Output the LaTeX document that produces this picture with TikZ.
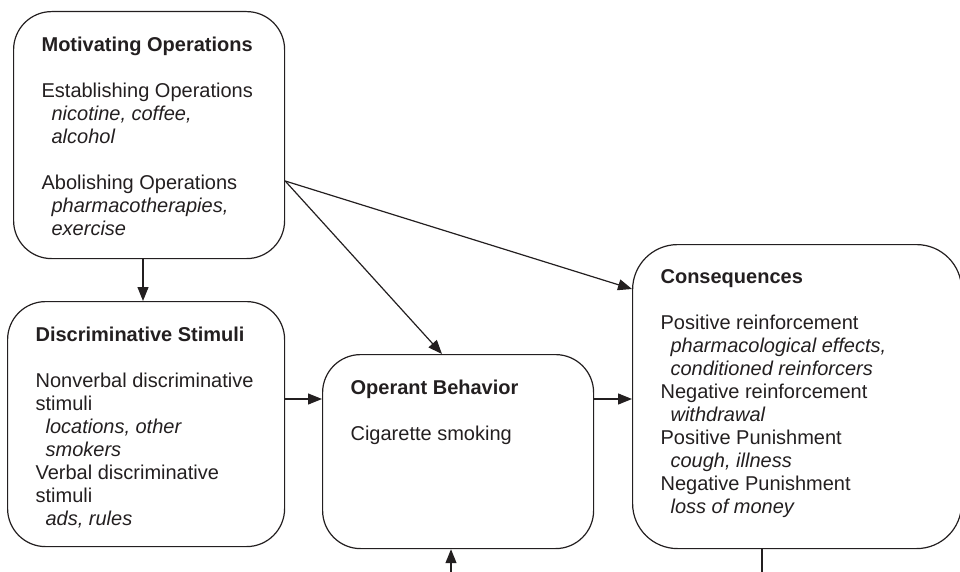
\documentclass[tikz,border=0pt]{standalone}
\usepackage{fontspec}
\setmainfont{Liberation Sans}
\usepackage{xcolor}
\usepackage{tikz}
\usetikzlibrary{arrows.meta, positioning}
\definecolor{ink}{RGB}{35,31,32}
\newcommand{\boxtext}[3]{\begin{minipage}[t][#2][t]{#1}\raggedright\vspace*{25pt}#3\end{minipage}}
\newcommand{\eg}[1]{\hspace*{10pt}\textit{#1}}

\begin{document}
\begin{tikzpicture}[
    x=1pt, y=-1pt,
    box/.style={rectangle, rounded corners=38pt, draw=ink, line width=1.2pt,
                inner xsep=28pt, inner ysep=0pt, anchor=north west,
                text=ink, font=\fontsize{20}{23}\selectfont},
    arr/.style={-{Triangle[length=14pt, width=11pt]}, line width=1.2pt, draw=ink}
]
  \useasboundingbox (0,0) rectangle (960,572);

  \node[box] (motiv) at (13,11) {\boxtext{215pt}{247pt}{\textbf{Motivating Operations}\\[23pt]
      Establishing Operations\\ \eg{nicotine, coffee,}\\ \eg{alcohol}\\[23pt]
      Abolishing Operations\\ \eg{pharmacotherapies,}\\ \eg{exercise}}};

  \node[box] (discr) at (7,301) {\boxtext{221pt}{245pt}{\textbf{Discriminative Stimuli}\\[23pt]
      Nonverbal discriminative\\ stimuli\\ \eg{locations, other}\\ \eg{smokers}\\
      Verbal discriminative\\ stimuli\\ \eg{ads, rules}}};

  \node[box] (oper) at (322,354) {\boxtext{215pt}{194pt}{\textbf{Operant Behavior}\\[23pt]
      Cigarette smoking}};

  \node[box, rounded corners=45pt] (conseq) at (632,244) {\boxtext{273pt}{304pt}{\textbf{Consequences}\\[23pt]
      Positive reinforcement\\ \eg{pharmacological effects,}\\ \eg{conditioned reinforcers}\\
      Negative reinforcement\\ \eg{withdrawal}\\
      Positive Punishment\\ \eg{cough, illness}\\
      Negative Punishment\\ \eg{loss of money}}};

  \coordinate (moout)   at (motiv.east |- 0,181);
  \coordinate (feedin)  at (451,572);
  \coordinate (feedout) at (762,572);

  \draw[arr] (143,0 |- motiv.south) -- (143,0 |- discr.north);
  \draw[arr] (moout) -- (442,0 |- oper.north);
  \draw[arr] (moout) -- (conseq.west |- 0,289);
  \draw[arr] (discr.east |- 0,399) -- (oper.west |- 0,399);
  \draw[arr] (oper.east |- 0,399) -- (conseq.west |- 0,399);
  \draw[arr] (feedin) -- (feedin |- oper.south);
  \draw[draw=ink, line width=1.2pt] (feedout |- conseq.south) -- (feedout);
\end{tikzpicture}
\end{document}
